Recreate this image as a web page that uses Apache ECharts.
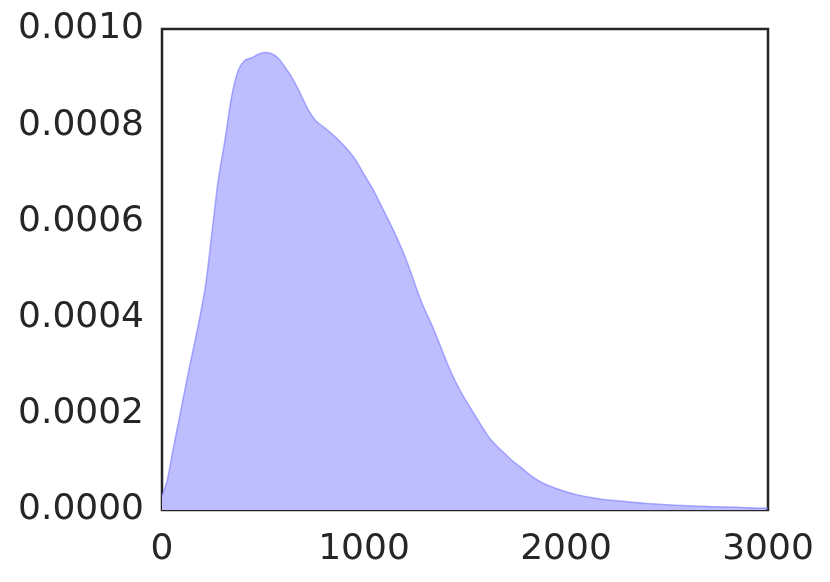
<!DOCTYPE html>
<html>
<head>
<meta charset="utf-8">
<script src="https://cdn.jsdelivr.net/npm/echarts@6/dist/echarts.min.js"></script>
<style>
  html, body { margin: 0; padding: 0; background: #fff; }
  #chart { width: 830px; height: 582px; }
</style>
</head>
<body>
<div id="chart"></div>
<script>
// density curve (x in units, y in 1e-4)
const xs = [0, 25, 50, 90, 130, 180, 215, 240, 262, 280, 312, 345, 378, 411, 444, 480, 518, 550, 576, 610,
  642, 680, 724, 760, 807, 860, 906, 955, 997, 1040, 1079, 1145, 1190, 1228, 1260, 1294, 1330, 1360, 1426, 1475,
  1530, 1574, 1630, 1690, 1730, 1772, 1838, 1900, 1970, 2050, 2168, 2280, 2383, 2500, 2630, 2745, 2845, 2990, 3000]
const ys = [0.3, 0.6, 1.15, 2.0, 2.85, 3.85, 4.65, 5.5, 6.3, 6.9, 7.7, 8.6, 9.15, 9.35, 9.4, 9.48, 9.51, 9.47, 9.39, 9.2,
  9.0, 8.7, 8.32, 8.1, 7.94, 7.75, 7.55, 7.3, 7.0, 6.7, 6.38, 5.82, 5.4, 4.99, 4.6, 4.23, 3.9, 3.6, 2.91, 2.49,
  2.1, 1.8, 1.45, 1.2, 1.04, 0.9, 0.68, 0.53, 0.42, 0.32, 0.23, 0.18, 0.14, 0.11, 0.083, 0.07, 0.055, 0.035, 0.035]
const xTicks = [0, 1000, 2000, 3000]
const yTicks = [0, 0.0002, 0.0004, 0.0006, 0.0008, 0.0010]

const points = xs.map((x, i) => [x, ys[i] * 1e-4])

const chart = echarts.init(document.getElementById('chart'))
const labelStyle = {
  color: '#262626',
  fontSize: 36,
  fontFamily: 'DejaVu Sans'
}
chart.setOption({
  backgroundColor: '#fff',
  animation: false,
  grid: {
    left: 162,
    right: 62,
    top: 29,
    bottom: 72,
    show: true,
    borderColor: '#262626',
    borderWidth: 2.5,
    containLabel: false
  },
  xAxis: {
    type: 'value',
    min: xTicks[0],
    max: xTicks[xTicks.length - 1],
    interval: 1000,
    axisLine: { show: false },
    axisTick: { show: false },
    splitLine: { show: false },
    axisLabel: Object.assign({
      margin: 22,
      formatter: v => String(v)
    }, labelStyle)
  },
  yAxis: {
    type: 'value',
    min: yTicks[0],
    max: yTicks[yTicks.length - 1],
    interval: 0.0002,
    axisLine: { show: false },
    axisTick: { show: false },
    splitLine: { show: false },
    axisLabel: Object.assign({
      margin: 18,
      formatter: v => v.toFixed(4)
    }, labelStyle)
  },
  series: [{
    type: 'line',
    data: points,
    smooth: 0.3,
    showSymbol: false,
    lineStyle: { color: 'rgba(110,110,255,0.55)', width: 1.5 },
    areaStyle: { color: 'rgb(190,190,255)', opacity: 1 },
    z: 1
  }]
})
</script>
</body>
</html>
